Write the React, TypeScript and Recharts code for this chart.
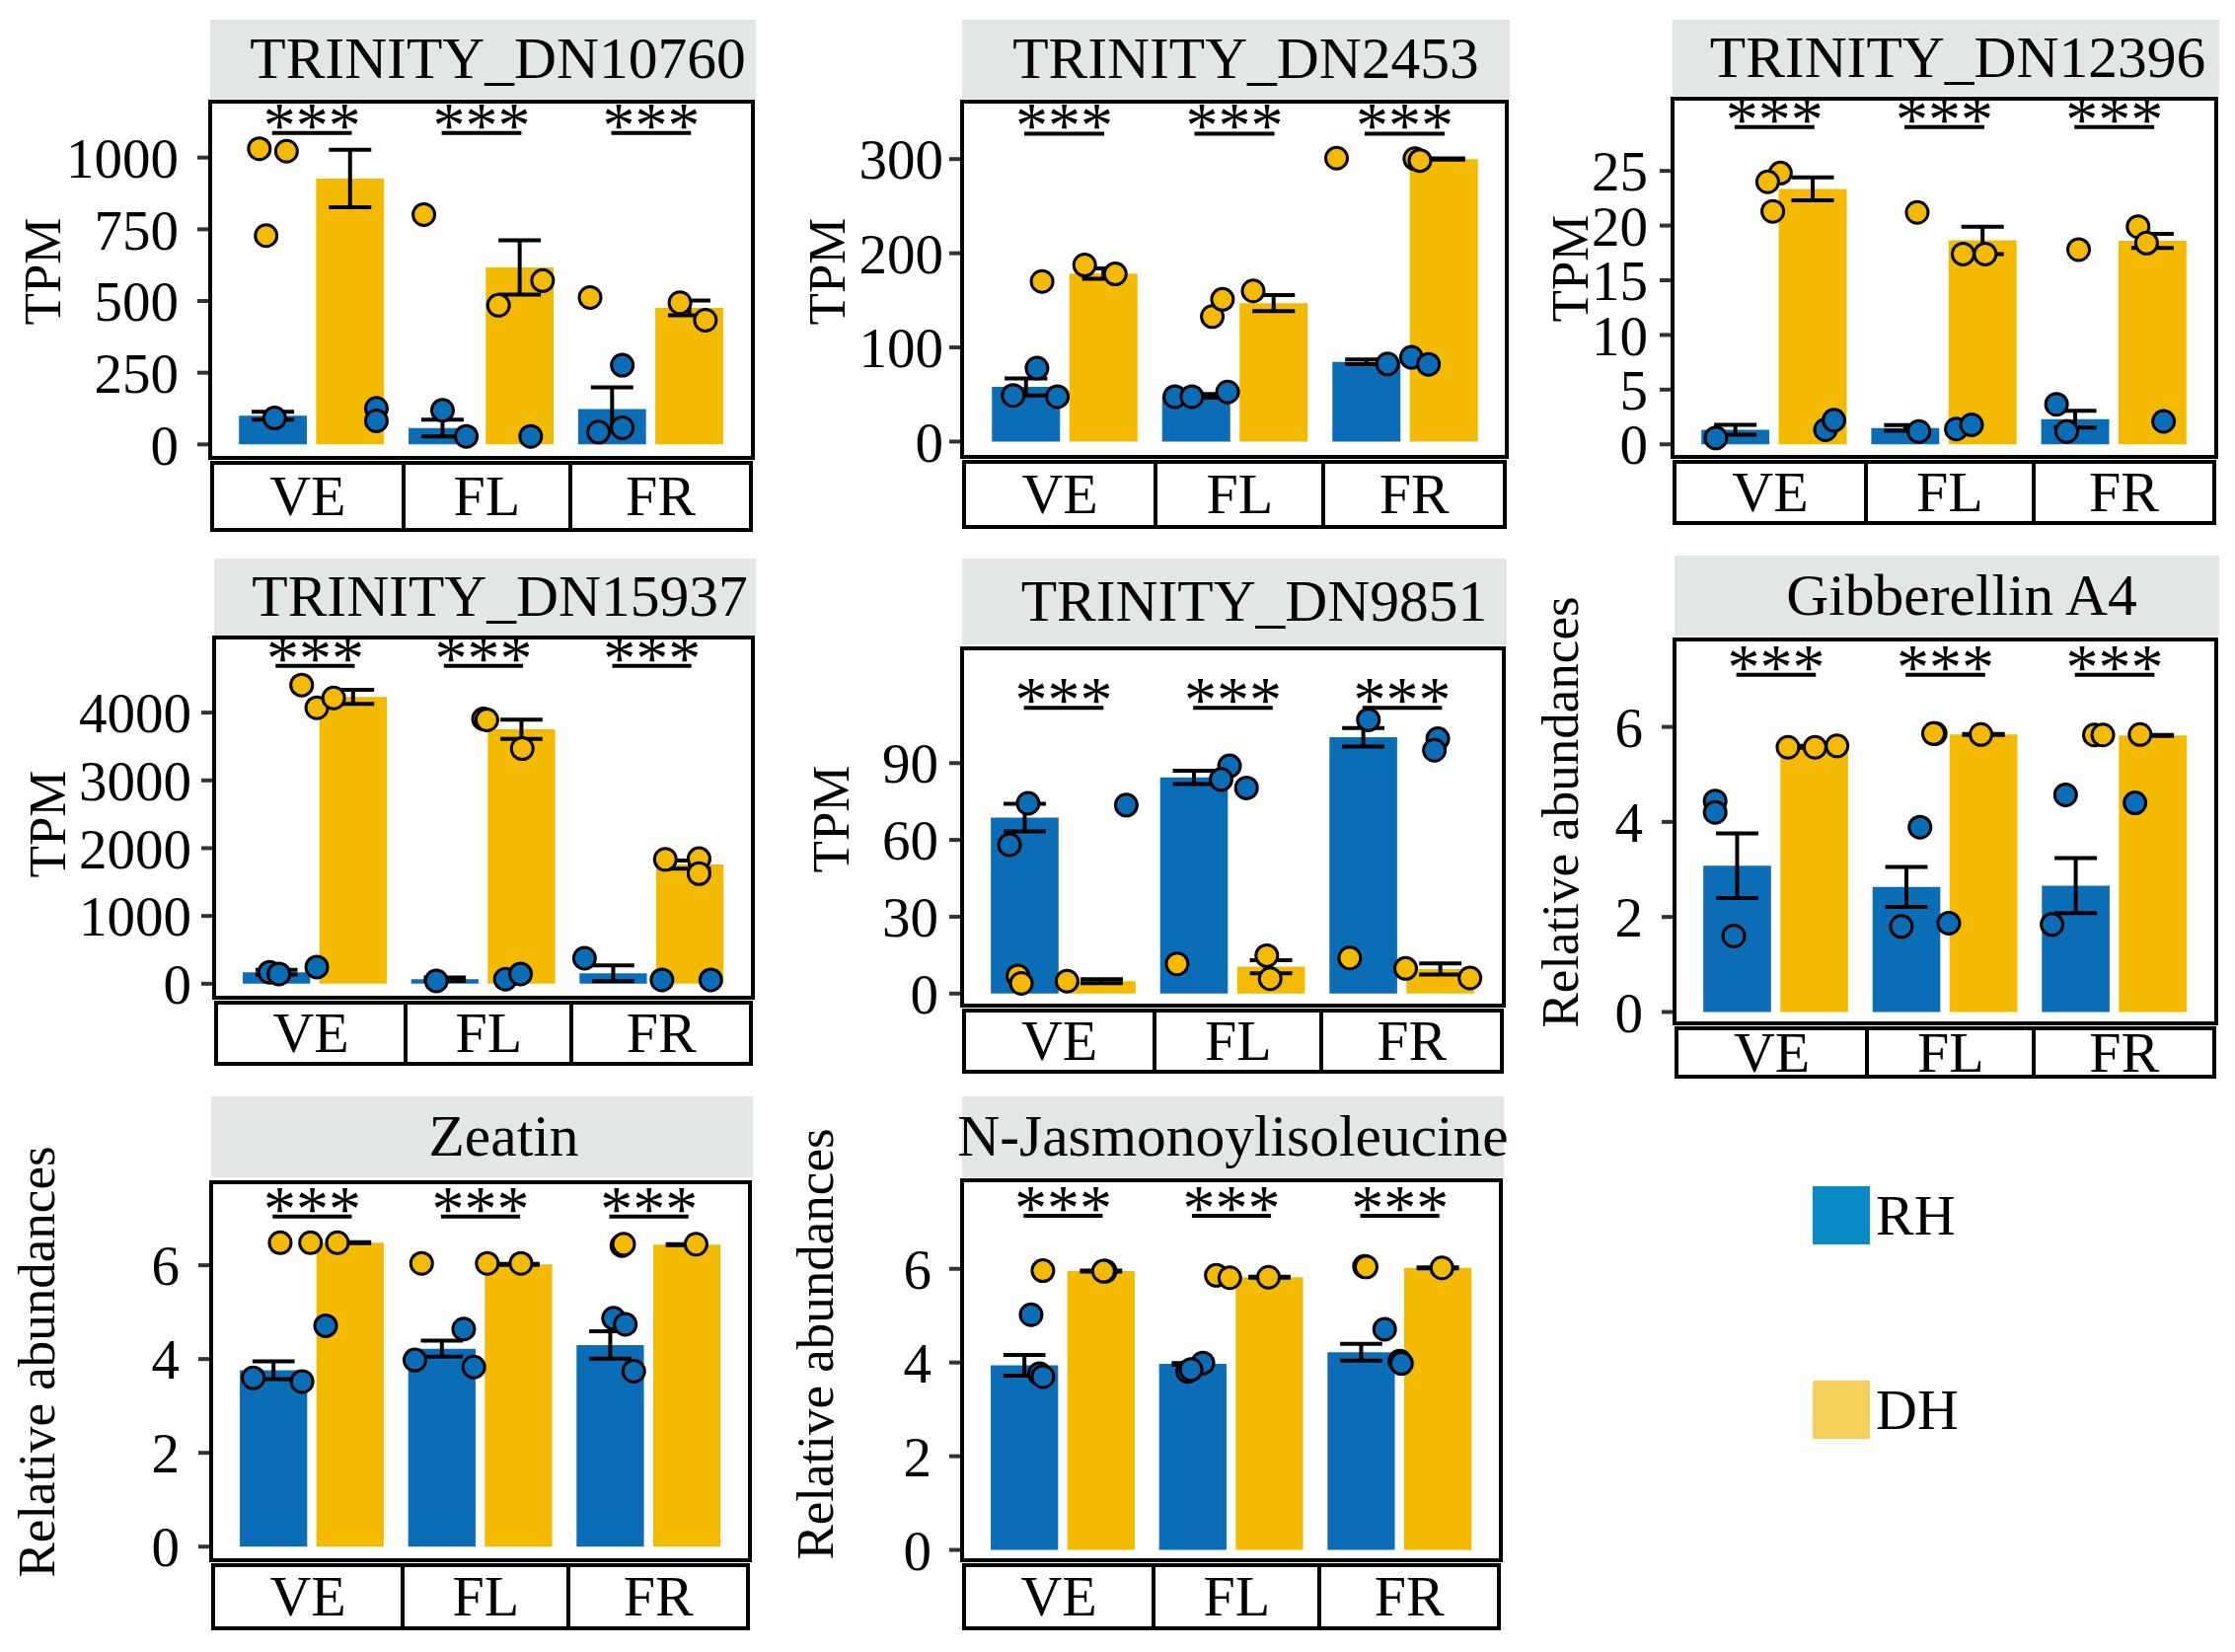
import React from "react";
import { Bar, ComposedChart, ErrorBar, ReferenceLine, Scatter, XAxis, YAxis } from "recharts";

const FONT = "'Liberation Serif', 'Times New Roman', serif";
const RH_COLOR = "#0a6db5";
const DH_COLOR = "#f3ba00";
const STRIP_GREY = "#e3e6e7";

const CATEGORIES = ["VE", "FL", "FR"];

type Pt = [number, number]; // [position on the group axis, value]

// TRINITY_DN10760
const DN10760_TICKS = [0, 250, 500, 750, 1000];
const DN10760_RH = [100, 57, 123];
const DN10760_RH_SE = [14, 29, 76];
const DN10760_DH = [927, 617, 476];
const DN10760_DH_SE = [100, 95, 26];
const DN10760_RH_PTS: Pt[] = [[0.78, 92], [1.38, 126], [1.38, 82], [1.77, 119], [1.91, 28], [2.29, 28], [2.83, 276], [2.69, 43], [2.83, 58]];
const DN10760_DH_PTS: Pt[] = [[0.69, 1031], [0.85, 1022], [0.73, 728], [1.66, 801], [2.1, 485], [2.36, 571], [2.64, 512], [3.17, 494], [3.32, 433]];

// TRINITY_DN2453
const DN2453_TICKS = [0, 100, 200, 300];
const DN2453_RH = [58, 48.5, 84.6];
const DN2453_RH_SE = [9, 2, 2.5];
const DN2453_DH = [178.5, 147, 300];
const DN2453_DH_SE = [5.5, 8.5, 0.7];
const DN2453_RH_PTS: Pt[] = [[0.84, 78], [0.7, 49], [0.96, 47.7], [1.65, 47.7], [1.75, 47.7], [1.96, 52.6], [2.9, 82.4], [3.04, 89.5], [3.14, 82]];
const DN2453_DH_PTS: Pt[] = [[0.87, 170], [1.12, 187.5], [1.3, 178], [1.87, 132.7], [1.93, 151], [2.11, 160], [2.6, 301], [3.06, 300.4], [3.09, 298.5]];

// TRINITY_DN12396
const DN12396_TICKS = [0, 5, 10, 15, 20, 25];
const DN12396_RH = [1.33, 1.5, 2.3];
const DN12396_RH_SE = [0.45, 0.25, 0.77];
const DN12396_DH = [23.35, 18.65, 18.6];
const DN12396_DH_SE = [1.05, 1.25, 0.65];
const DN12396_RH_PTS: Pt[] = [[0.655, 0.58], [1.3, 1.33], [1.35, 2.2], [1.85, 1.17], [2.07, 1.4], [2.16, 1.78], [2.66, 3.66], [2.72, 1.17], [3.29, 2.1]];
const DN12396_DH_PTS: Pt[] = [[1.035, 24.8], [0.96, 24.0], [0.99, 21.3], [1.84, 21.2], [2.11, 17.4], [2.24, 17.4], [2.79, 17.8], [3.14, 19.9], [3.19, 18.4]];

// TRINITY_DN15937
const DN15937_TICKS = [0, 1000, 2000, 3000, 4000];
const DN15937_RH = [170, 67, 155];
const DN15937_RH_SE = [35, 25, 116];
const DN15937_DH = [4232, 3753, 1758];
const DN15937_DH_SE = [103, 142, 60];
const DN15937_RH_PTS: Pt[] = [[0.73, 170], [0.785, 144], [1.01, 247], [1.72, 41], [2.13, 67], [2.22, 144], [2.6, 376], [3.06, 57], [3.35, 57]];
const DN15937_DH_PTS: Pt[] = [[0.92, 4407], [1.01, 4072], [1.11, 4216], [2.0, 3907], [2.02, 3892], [2.23, 3469], [3.08, 1835], [3.28, 1845], [3.28, 1624]];

// TRINITY_DN9851
const DN9851_TICKS = [0, 30, 60, 90];
const DN9851_RH = [68.7, 84.4, 100.1];
const DN9851_RH_SE = [5.4, 2.6, 3.6];
const DN9851_DH = [4.85, 10.5, 9.6];
const DN9851_DH_SE = [0.8, 2.55, 2.15];
const DN9851_RH_PTS: Pt[] = [[0.79, 74.3], [0.68, 58.1], [1.37, 73.6], [1.98, 88.9], [1.93, 83.6], [2.08, 80.3], [2.8, 106.9], [3.21, 99.5], [3.19, 95.0]];
const DN9851_DH_PTS: Pt[] = [[0.73, 6.9], [0.75, 4.0], [1.02, 4.85], [1.67, 11.6], [2.2, 14.8], [2.22, 5.8], [2.69, 13.9], [3.02, 9.8], [3.4, 6.1]];

// Gibberellin A4
const GA4_TICKS = [0, 2, 4, 6];
const GA4_RH = [3.08, 2.63, 2.66];
const GA4_RH_SE = [0.68, 0.42, 0.58];
const GA4_DH = [5.58, 5.84, 5.82];
const GA4_DH_SE = [0.02, 0.01, 0.01];
const GA4_RH_PTS: Pt[] = [[0.64, 4.44], [0.64, 4.2], [0.75, 1.6], [1.85, 3.89], [1.74, 1.8], [2.02, 1.87], [2.71, 4.57], [2.63, 1.84], [3.12, 4.4]];
const GA4_DH_PTS: Pt[] = [[1.07, 5.57], [1.23, 5.57], [1.36, 5.6], [1.94, 5.86], [1.93, 5.86], [2.21, 5.84], [2.88, 5.83], [2.93, 5.83], [3.15, 5.84]];

// Zeatin
const ZEATIN_TICKS = [0, 2, 4, 6];
const ZEATIN_RH = [3.76, 4.22, 4.3];
const ZEATIN_RH_SE = [0.19, 0.17, 0.29];
const ZEATIN_DH = [6.48, 6.02, 6.44];
const ZEATIN_DH_SE = [0.01, 0.01, 0.01];
const ZEATIN_RH_PTS: Pt[] = [[0.65, 3.6], [0.94, 3.52], [1.08, 4.71], [1.61, 3.98], [1.9, 4.64], [1.96, 3.83], [2.79, 4.87], [2.86, 4.74], [2.91, 3.74]];
const ZEATIN_DH_PTS: Pt[] = [[0.81, 6.48], [0.99, 6.48], [1.15, 6.48], [1.65, 6.04], [2.04, 6.04], [2.24, 6.04], [2.84, 6.42], [2.85, 6.45], [3.28, 6.45]];

// N-Jasmonoylisoleucine
const JAILE_TICKS = [0, 2, 4, 6];
const JAILE_RH = [3.94, 3.97, 4.22];
const JAILE_RH_SE = [0.22, 0.02, 0.18];
const JAILE_DH = [5.95, 5.82, 6.02];
const JAILE_DH_SE = [0.01, 0.01, 0.01];
const JAILE_RH_PTS: Pt[] = [[0.81, 5.02], [0.86, 3.76], [0.88, 3.7], [1.74, 3.81], [1.83, 3.99], [1.76, 3.85], [2.91, 4.71], [3.0, 4.03], [3.01, 3.98]];
const JAILE_DH_PTS: Pt[] = [[0.88, 5.96], [1.25, 5.95], [1.24, 5.95], [1.91, 5.86], [1.99, 5.81], [2.22, 5.82], [2.79, 6.05], [2.8, 6.04], [3.25, 6.02]];

type PanelSpec = {
  title: string;
  yLabel: string;
  ticks: number[];
  domain: [number, number];
  sigY: number;
  rh: number[];
  rhSe: number[];
  dh: number[];
  dhSe: number[];
  rhPts: Pt[];
  dhPts: Pt[];
  // layout
  box: [number, number, number, number];
  strip: [number, number];
  xStrip: [number, number];
  yLab: [number, number];
  tickMargin: number;
  shift: number;
};

const PANELS: PanelSpec[] = [
  {
    title: "TRINITY_DN10760", yLabel: "TPM", ticks: DN10760_TICKS, domain: [-47, 1195], sigY: 1086,
    rh: DN10760_RH, rhSe: DN10760_RH_SE, dh: DN10760_DH, dhSe: DN10760_DH_SE, rhPts: DN10760_RH_PTS, dhPts: DN10760_DH_PTS,
    box: [213, 103, 763, 464], strip: [20, 100], xStrip: [467, 539], yLab: [43, 275], tickMargin: 19, shift: 15,
  },
  {
    title: "TRINITY_DN2453", yLabel: "TPM", ticks: DN2453_TICKS, domain: [-16.3, 361], sigY: 327,
    rh: DN2453_RH, rhSe: DN2453_RH_SE, dh: DN2453_DH, dhSe: DN2453_DH_SE, rhPts: DN2453_RH_PTS, dhPts: DN2453_DH_PTS,
    box: [975, 103, 1527, 463], strip: [20, 100], xStrip: [466, 536], yLab: [838, 275], tickMargin: 6, shift: 10,
  },
  {
    title: "TRINITY_DN12396", yLabel: "TPM", ticks: DN12396_TICKS, domain: [-1.15, 31.6], sigY: 29,
    rh: DN12396_RH, rhSe: DN12396_RH_SE, dh: DN12396_DH, dhSe: DN12396_DH_SE, rhPts: DN12396_RH_PTS, dhPts: DN12396_DH_PTS,
    box: [1695, 100, 2246, 463], strip: [20, 97], xStrip: [466, 532], yLab: [1591, 272], tickMargin: 12, shift: 12,
  },
  {
    title: "TRINITY_DN15937", yLabel: "TPM", ticks: DN15937_TICKS, domain: [-206, 5108], sigY: 4691,
    rh: DN15937_RH, rhSe: DN15937_RH_SE, dh: DN15937_DH, dhSe: DN15937_DH_SE, rhPts: DN15937_RH_PTS, dhPts: DN15937_DH_PTS,
    box: [217, 646, 763, 1011], strip: [566, 644], xStrip: [1014, 1080], yLab: [48, 835], tickMargin: 10, shift: 15,
  },
  {
    title: "TRINITY_DN9851", yLabel: "TPM", ticks: DN9851_TICKS, domain: [-4.7, 134.8], sigY: 111.6,
    rh: DN9851_RH, rhSe: DN9851_RH_SE, dh: DN9851_DH, dhSe: DN9851_DH_SE, rhPts: DN9851_RH_PTS, dhPts: DN9851_DH_PTS,
    box: [975, 657, 1524, 1019], strip: [566, 653], xStrip: [1022, 1088], yLab: [842, 830], tickMargin: 11, shift: 20,
  },
  {
    title: "Gibberellin A4", yLabel: "Relative abundances", ticks: GA4_TICKS, domain: [-0.24, 7.84], sigY: 7.1,
    rh: GA4_RH, rhSe: GA4_RH_SE, dh: GA4_DH, dhSe: GA4_DH_SE, rhPts: GA4_RH_PTS, dhPts: GA4_DH_PTS,
    box: [1697, 648, 2246, 1037], strip: [563, 644], xStrip: [1040, 1093], yLab: [1581, 823], tickMargin: 19, shift: 15,
  },
  {
    title: "Zeatin", yLabel: "Relative abundances", ticks: ZEATIN_TICKS, domain: [-0.29, 7.77], sigY: 7.04,
    rh: ZEATIN_RH, rhSe: ZEATIN_RH_SE, dh: ZEATIN_DH, dhSe: ZEATIN_DH_SE, rhPts: ZEATIN_RH_PTS, dhPts: ZEATIN_DH_PTS,
    box: [214, 1198, 760, 1581], strip: [1111, 1193], xStrip: [1584, 1652], yLab: [37, 1380], tickMargin: 19, shift: 22,
  },
  {
    title: "N-Jasmonoylisoleucine", yLabel: "Relative abundances", ticks: JAILE_TICKS, domain: [-0.22, 7.89], sigY: 7.13,
    rh: JAILE_RH, rhSe: JAILE_RH_SE, dh: JAILE_DH, dhSe: JAILE_DH_SE, rhPts: JAILE_RH_PTS, dhPts: JAILE_DH_PTS,
    box: [975, 1196, 1521, 1581], strip: [1111, 1193], xStrip: [1584, 1652], yLab: [826, 1362], tickMargin: 18, shift: 0,
  },
];

const AXIS_W = 240;
const PAD = 50;

const dot = (fill: string) => (p: any) => (
  <circle cx={p.cx} cy={p.cy} r={11} fill={fill} stroke="#000" strokeWidth={3} />
);

function Panel({ s }: { s: PanelSpec }) {
  const [l, t, r, b] = s.box;
  const w = r - l;
  const h = b - t;
  const unit = w / 3.2;
  const data = CATEGORIES.map((cat, i) => ({
    cat,
    rh: s.rh[i],
    rhSe: s.rhSe[i],
    dh: s.dh[i],
    dhSe: s.dhSe[i],
  }));
  const rhPts = s.rhPts.map(([x, y]) => ({ x, y }));
  const dhPts = s.dhPts.map(([x, y]) => ({ x, y }));
  const cells = [0.355, 0.31, 0.335];

  return (
    <>
      <div
        style={{
          position: "absolute", left: l, top: s.strip[0], width: w + 3, height: s.strip[1] - s.strip[0],
          background: STRIP_GREY, display: "flex", alignItems: "center", justifyContent: "center",
        }}
      >
        <span style={{ fontSize: 59.5, lineHeight: 1, whiteSpace: "nowrap", transform: `translateX(${s.shift}px)` }}>
          {s.title}
        </span>
      </div>

      <div style={{ position: "absolute", left: l - AXIS_W, top: t - PAD }}>
        <ComposedChart
          width={w + AXIS_W}
          height={h + 2 * PAD}
          data={data}
          margin={{ top: PAD, right: 0, bottom: PAD, left: 0 }}
          barSize={unit * 0.4}
          barGap={unit * 0.055}
        >
          <XAxis dataKey="cat" hide padding={{ left: w / 32, right: w / 32 }} />
          <XAxis xAxisId="num" dataKey="x" type="number" domain={[0.4, 3.6]} hide allowDataOverflow />
          <YAxis
            width={AXIS_W}
            domain={s.domain}
            ticks={s.ticks}
            interval={0}
            allowDataOverflow
            axisLine={false}
            tickSize={13}
            tickMargin={s.tickMargin}
            tickLine={{ stroke: "#333", strokeWidth: 4 }}
            tick={{ fill: "#000", fontSize: 57, fontFamily: FONT }}
          />
          <Bar dataKey="rh" fill={RH_COLOR} isAnimationActive={false}>
            <ErrorBar dataKey="rhSe" width={unit * 0.125} stroke="#000" strokeWidth={4} direction="y" />
          </Bar>
          <Bar dataKey="dh" fill={DH_COLOR} isAnimationActive={false}>
            <ErrorBar dataKey="dhSe" width={unit * 0.125} stroke="#000" strokeWidth={4} direction="y" />
          </Bar>
          {CATEGORIES.map((cat, i) => (
            <ReferenceLine
              key={cat}
              xAxisId="num"
              segment={[{ x: i + 1 - 0.235, y: s.sigY }, { x: i + 1 + 0.235, y: s.sigY }]}
              stroke="#000"
              strokeWidth={4}
              label={{ value: "***", position: "top", offset: -14, fill: "#000", fontSize: 66, fontFamily: FONT }}
            />
          ))}
          <Scatter xAxisId="num" data={rhPts} dataKey="y" shape={dot(RH_COLOR)} isAnimationActive={false} />
          <Scatter xAxisId="num" data={dhPts} dataKey="y" shape={dot(DH_COLOR)} isAnimationActive={false} />
        </ComposedChart>
      </div>

      <div
        style={{
          position: "absolute", left: l - 2, top: t - 2, width: w + 4, height: h + 4,
          border: "4px solid #000", boxSizing: "border-box",
        }}
      />

      <div
        style={{
          position: "absolute", left: l, top: s.xStrip[0], width: w, height: s.xStrip[1] - s.xStrip[0],
          border: "4px solid #000", boxSizing: "border-box", display: "flex",
        }}
      >
        {CATEGORIES.map((cat, i) => (
          <div
            key={cat}
            style={{
              width: `${cells[i] * 100}%`, display: "flex", alignItems: "center", justifyContent: "center",
              borderLeft: i > 0 ? "4px solid #000" : "none", fontSize: 58, lineHeight: 1,
            }}
          >
            {cat}
          </div>
        ))}
      </div>

      <div
        style={{
          position: "absolute", left: s.yLab[0], top: s.yLab[1], fontSize: 53, lineHeight: 1,
          whiteSpace: "nowrap", transform: "translate(-50%, -50%) rotate(-90deg)",
        }}
      >
        {s.yLabel}
      </div>
    </>
  );
}

const LEGEND = [
  { name: "RH", color: "#0a8ac6" },
  { name: "DH", color: "#f6d05a" },
];

export default function App() {
  return (
    <div
      style={{
        position: "absolute", left: 0, top: 0, width: 2265, height: 1674,
        background: "#fff", fontFamily: FONT, color: "#000", overflow: "hidden",
      }}
    >
      {PANELS.map((s) => (
        <Panel key={s.title} s={s} />
      ))}
      {LEGEND.map((item, i) => (
        <div
          key={item.name}
          style={{
            position: "absolute", left: 1837, top: 1202 + i * 197, height: 59,
            display: "flex", alignItems: "center",
          }}
        >
          <div style={{ width: 58, height: 59, background: item.color }} />
          <span style={{ fontSize: 58, lineHeight: 1, marginLeft: 6 }}>{item.name}</span>
        </div>
      ))}
    </div>
  );
}
